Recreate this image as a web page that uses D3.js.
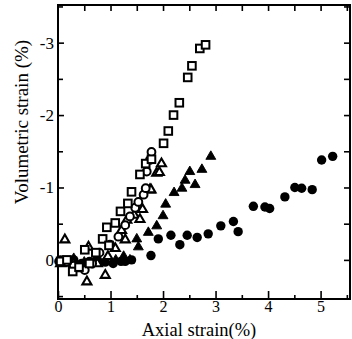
<!DOCTYPE html>
<html><head><meta charset="utf-8">
<script src="https://cdn.jsdelivr.net/npm/d3@7"></script>
<style>body{margin:0;background:#fff}svg{display:block}</style>
</head><body>
<svg id="c" width="352" height="339"></svg>
<script>
const xTicks=[0,1,2,3,4,5];
const yTicks=[-3,-2,-1,0];
const xLabel="Axial strain(%)";
const yLabel="Volumetric strain (%)";

const squaresX=[0.05,0.17,0.28,0.40,0.51,0.60,0.72,0.85,0.93,0.97,1.09,1.19,1.33,1.40,1.56,1.67,1.78,2.01,2.10,2.20,2.31,2.47,2.55,2.70,2.81];
const squaresY=[0.02,0.00,0.16,0.10,-0.14,0.05,-0.10,-0.29,-0.45,-0.20,-0.51,-0.67,-0.78,-0.94,-1.18,-1.33,-1.39,-1.61,-1.78,-2.00,-2.17,-2.52,-2.68,-2.92,-2.97];

const circlesX=[0.02,0.16,0.30,0.51,0.65,0.79,0.99,1.15,1.28,1.37,1.47,1.53,1.63,1.67,1.69,1.75,1.78];
const circlesY=[0.02,0.03,0.08,0.14,0.05,-0.10,-0.21,-0.32,-0.48,-0.60,-0.72,-0.80,-0.90,-0.99,-1.22,-1.38,-1.49];

const trianglesX=[0.05,0.13,0.30,0.45,0.55,0.58,0.75,0.90,0.95,1.09,1.21,1.28,1.31,1.45,1.56,1.61,1.75,1.77,1.88,1.93,1.97];
const trianglesY=[0.05,-0.28,0.05,0.12,0.30,-0.18,0.05,0.21,-0.05,-0.16,-0.41,-0.28,-0.55,-0.62,-0.56,-0.70,-0.97,-0.97,-1.20,-1.21,-1.33];

const filledTriX=[0.10,0.30,0.50,0.70,0.90,1.10,1.25,1.37,1.50,1.53,1.72,1.88,2.00,2.05,2.21,2.36,2.42,2.51,2.61,2.74,2.91];
const filledTriY=[0.02,-0.02,0.03,0.00,0.02,0.00,-0.05,0.00,-0.29,-0.18,-0.38,-0.47,-0.61,-0.77,-0.93,-0.99,-1.10,-1.22,-1.04,-1.25,-1.43];

const filledCircX=[0.05,0.15,0.30,0.45,0.60,0.75,0.90,1.05,1.20,1.28,1.40,1.77,1.91,2.15,2.32,2.46,2.65,2.86,3.10,3.34,3.43,3.72,3.94,4.03,4.32,4.51,4.64,4.84,5.02,5.23];
const filledCircY=[0.00,0.03,0.00,0.05,0.02,0.00,0.03,0.05,0.02,0.02,0.00,-0.06,-0.29,-0.34,-0.21,-0.34,-0.31,-0.36,-0.47,-0.53,-0.39,-0.74,-0.73,-0.71,-0.87,-1.00,-0.99,-0.97,-1.38,-1.43];

const svg=d3.select("#c");
const L=58,R=350,T=5,B=299;
const x=d3.scaleLinear().domain([0,5.56]).range([L,R]);
const y=d3.scaleLinear().domain([-3.52,0.54]).range([T,B]);
const font="Liberation Serif, Times New Roman, serif";

const halfX=d3.range(0,5.6,0.5).filter(v=>!xTicks.includes(v));
const halfY=d3.range(-3.5,0.51,0.5).filter(v=>!yTicks.includes(v));

function style(g){g.select(".domain").remove();g.selectAll("line").attr("stroke","#000").attr("stroke-width",1.6);
 g.selectAll("text").attr("font-family",font).attr("fill","#000");}

// bottom
svg.append("g").attr("transform",`translate(0,${B})`).call(d3.axisBottom(x).tickValues(xTicks).tickSize(-8).tickPadding(2).tickFormat(d=>String(d))).call(style).selectAll("text").attr("font-size",16);
svg.append("g").attr("transform",`translate(0,${B})`).call(d3.axisBottom(x).tickValues(halfX).tickSize(-4).tickFormat("")).call(style);
// top
svg.append("g").attr("transform",`translate(0,${T})`).call(d3.axisTop(x).tickValues(d3.range(0.5,5.6,0.5)).tickSize(-6).tickFormat("")).call(style);
// left
svg.append("g").attr("transform",`translate(${L},0)`).call(d3.axisLeft(y).tickValues(yTicks).tickSize(-6).tickPadding(4).tickFormat(d=>d===0?"0":String(d))).call(style).selectAll("text").attr("font-size",17);
svg.append("g").attr("transform",`translate(${L},0)`).call(d3.axisLeft(y).tickValues(halfY).tickSize(-5).tickFormat("")).call(style);
// right
svg.append("g").attr("transform",`translate(${R},0)`).call(d3.axisRight(y).tickValues(d3.range(-3.5,0.01,0.5)).tickSize(-6).tickFormat("")).call(style);

svg.append("rect").attr("x",L).attr("y",T).attr("width",R-L).attr("height",B-T)
  .attr("fill","none").attr("stroke","#000").attr("stroke-width",2);

const zip=(a,b)=>a.map((v,i)=>[v,b[i]]);
const tri="M0,-4.8L4.3,2.6L-4.3,2.6Z";
const g=svg.append("g");
g.selectAll(".fc").data(zip(filledCircX,filledCircY)).join("circle")
 .attr("cx",d=>x(d[0])).attr("cy",d=>y(d[1])).attr("r",4.7).attr("fill","#000");
g.selectAll(".ft").data(zip(filledTriX,filledTriY)).join("path").attr("class","ft")
 .attr("d",tri).attr("transform",d=>`translate(${x(d[0])},${y(d[1])}) scale(1.15)`).attr("fill","#000").attr("stroke","#000").attr("stroke-width",0.8);
g.selectAll(".ot").data(zip(trianglesX,trianglesY)).join("path").attr("class","ot")
 .attr("d",tri).attr("transform",d=>`translate(${x(d[0])},${y(d[1])}) scale(1.05)`).attr("fill","#fff").attr("stroke","#000").attr("stroke-width",2);
g.selectAll(".oc").data(zip(circlesX,circlesY)).join("circle").attr("class","oc")
 .attr("cx",d=>x(d[0])).attr("cy",d=>y(d[1])).attr("r",3.9).attr("fill","#fff").attr("stroke","#000").attr("stroke-width",2);
g.selectAll(".os").data(zip(squaresX,squaresY)).join("rect").attr("class","os")
 .attr("x",d=>x(d[0])-3.8).attr("y",d=>y(d[1])-3.8).attr("width",7.6).attr("height",7.6).attr("fill","#fff").attr("stroke","#000").attr("stroke-width",2);

svg.append("text").attr("x",199).attr("y",336).attr("text-anchor","middle").attr("font-family",font).attr("font-size",18.5).text(xLabel);
svg.append("text").attr("transform","translate(28,122) rotate(-90)").attr("text-anchor","middle").attr("font-family",font).attr("font-size",19).text(yLabel);
</script>
</body></html>
